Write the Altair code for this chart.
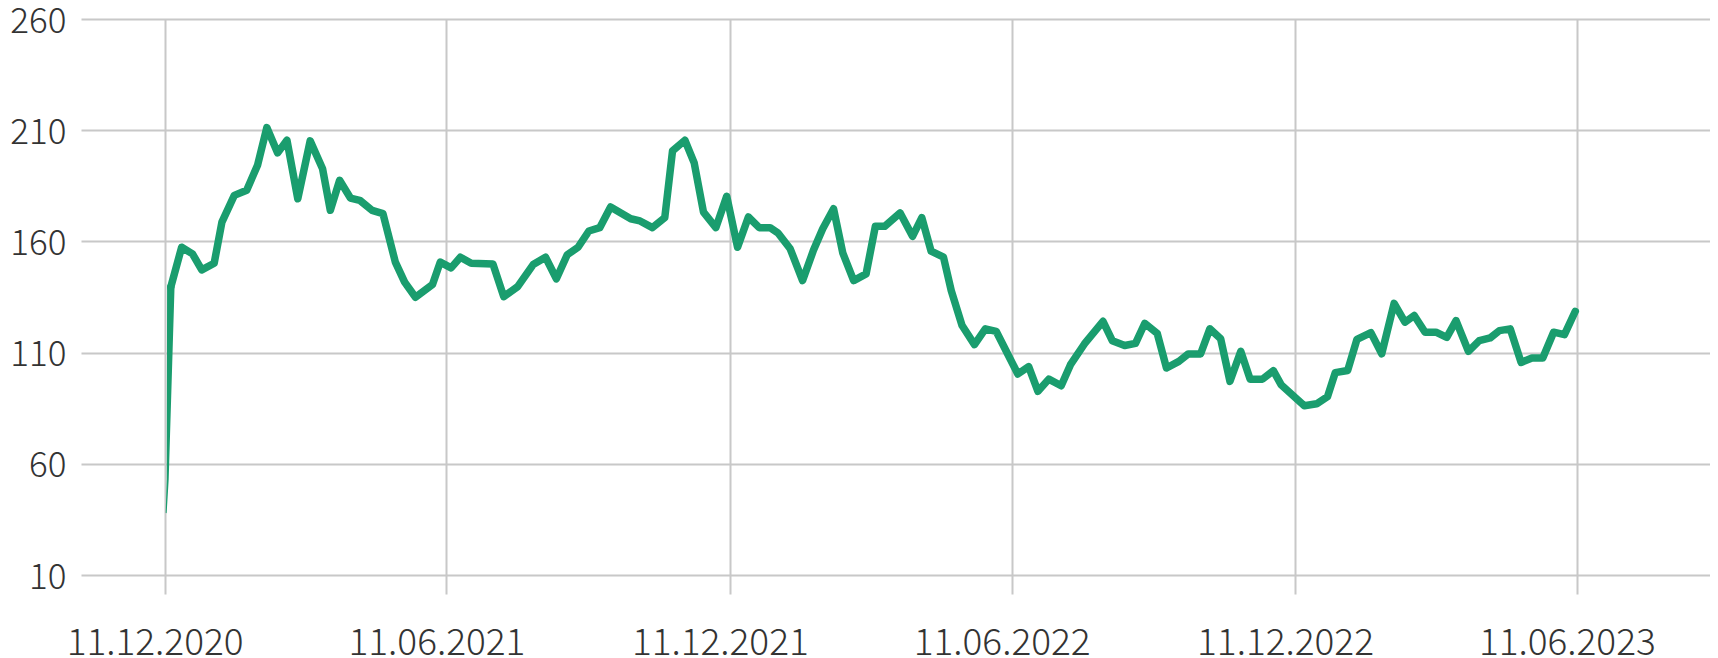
import altair as alt
import pandas as pd

# days since 11.12.2020 for each plotted point, and the plotted value
days = [1, 2, 4, 11, 18, 24, 32, 37, 45, 53, 60, 66, 73, 79, 86, 94, 102, 107, 113, 120,
        126, 134, 141, 149, 155, 162, 173, 178, 185, 191, 198, 212, 219, 228, 238, 246, 253,
        260, 267, 274, 281, 288, 301, 307, 315, 323, 328, 336, 342, 348, 356, 363, 370, 377,
        384, 391, 396, 404, 412, 419, 425, 432, 438, 445, 453, 459, 465, 475, 483, 489, 495,
        503, 508, 515, 523, 530, 537, 551, 558, 564, 571, 579, 585, 594, 606, 612, 620, 627,
        633, 641, 647, 655, 661, 669, 675, 682, 688, 695, 701, 709, 716, 721, 736, 744, 751,
        756, 764, 770, 779, 786, 794, 801, 807, 814, 821, 828, 834, 842, 849, 856, 862, 869,
        876, 883, 890, 897, 904, 911]
values = [38, 53, 139.5, 157.4, 154.4, 147.2, 150.2, 168.7, 180.7, 183, 194.2, 211.2, 199.8,
          205.5, 179.2, 205.2, 192.7, 174, 187.5, 179.5, 178.5, 174, 172.5, 150.7, 141.7, 134.9,
          140.6, 150.7, 148.1, 152.9, 150.2, 149.9, 135.2, 139.7, 149.6, 152.9, 143.2, 154,
          157.4, 164.7, 166.2, 175.5, 170.2, 169.2, 166.2, 170.7, 200.7, 205.5, 195.3, 173.2,
          166.2, 180.3, 157.4, 171, 166.2, 166.2, 163.9, 156.7, 142.4, 156, 165.7, 174.7, 154.7,
          142.4, 145.4, 166.8, 166.8, 172.8, 162.3, 170.7, 155.6, 152.9, 137.9, 122.2, 113.6,
          120.7, 119.6, 100.4, 103.7, 92.6, 98.1, 95.1, 104.6, 113.9, 124.1, 115.4, 113.2,
          114.2, 123.2, 118.7, 103.1, 106.1, 109.4, 109.4, 120.7, 116.2, 97.1, 110.6, 98.1,
          98.1, 101.9, 95.6, 86.1, 87.0, 90.2, 101.0, 102.0, 116.0, 119.0, 109.5, 132.2, 123.7,
          126.7, 119.2, 119.2, 116.9, 124.4, 110.6, 115.4, 116.6, 119.9, 120.7, 105.6, 107.6,
          107.6, 119.2, 118.1, 128.6]

start_date = "2020-12-11"
y_ticks = [10, 60, 110, 160, 210, 260]
x_ticks = [(2020, 12, 11), (2021, 6, 11), (2021, 12, 11), (2022, 6, 11), (2022, 12, 11), (2023, 6, 11)]
x_domain = [(2020, 10, 18), (2023, 9, 5)]
y_domain = [1.5, 260]

dates = pd.Timestamp(start_date) + pd.to_timedelta(days, unit="D")
df = pd.DataFrame({"date": dates.strftime("%Y-%m-%d"), "day": days, "value": values})

def dt(t):
    return alt.DateTime(year=t[0], month=t[1], date=t[2], utc=True)

GREEN = "#1a9d6e"
FONT = "Noto Sans CJK SC"

x_enc = alt.X(
    "date:T",
    scale=alt.Scale(type="utc", domain=[dt(t) for t in x_domain]),
    axis=alt.Axis(
        values=[dt(t) for t in x_ticks],
        labelExpr="utcFormat(datum.value, '%d.%m.%Y')",
        title=None, domain=False, ticks=False, labelPadding=31, labelOffset=-10,
        labelOverlap=False, labelFlush=False, labelFontSize=37,
    ),
)
y_enc = alt.Y(
    "value:Q",
    scale=alt.Scale(domain=y_domain, nice=False, zero=False),
    axis=alt.Axis(values=y_ticks, title=None, domain=False, ticks=False,
                  labelPadding=15, labelOffset=2, labelFontSize=35),
)

base = alt.Chart(df)

spike = base.transform_filter("datum.day <= 4").mark_trail(color=GREEN).encode(
    x=x_enc, y=y_enc,
    size=alt.Size("value:Q", scale=alt.Scale(domain=[38, 140], range=[1, 7.5]), legend=None),
)
line = base.transform_filter("datum.day >= 4").mark_line(
    color=GREEN, strokeWidth=7.5, strokeJoin="round", strokeCap="round"
).encode(x=x_enc, y=y_enc)

chart = alt.layer(spike, line).properties(
    width=1629, height=575,
    autosize=alt.AutoSizeParams(type="none"),
    padding={"left": 73, "top": 11, "right": 0, "bottom": 64},
).configure_view(stroke=None).configure_axis(
    labelFont=FONT, labelColor="#333333", labelFontWeight=300,
    gridColor="#c8c8c8", gridWidth=2,
)

chart.save("out.html", embed_options={"renderer": "svg", "actions": False})
